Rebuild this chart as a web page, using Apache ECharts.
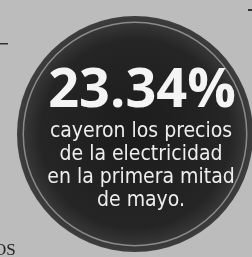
<!DOCTYPE html>
<html><head><meta charset="utf-8">
<script src="https://cdn.jsdelivr.net/npm/echarts@6/dist/echarts.min.js"></script>
<style>html,body{margin:0;padding:0;background:#bcbcbc;}#c{width:252px;height:257px;}</style>
</head><body><div id="c"></div>
<script>
const headlineValue = 23.34;
const headlineSuffix = '%';
const captionLines = ['cayeron los precios', 'de la electricidad', 'en la primera mitad', 'de mayo.'];
const sliceValues = [1];

const chart = echarts.init(document.getElementById('c'), null, {renderer: 'canvas'});
const cx = 135, cy = 134, r = 118;
chart.setOption({
  backgroundColor: '#bcbcbc',
  animation: false,
  series: [{
    type: 'pie', center: [cx, cy], radius: [0, r], silent: true,
    label: {show: false}, labelLine: {show: false},
    itemStyle: {color: {type: 'radial', x: 0.5, y: 0.5, r: 0.5, colorStops: [{offset: 0, color: '#1c1c1c'}, {offset: 0.8, color: '#252525'}, {offset: 1, color: '#3e3e3e'}]}},
    data: sliceValues.map(v => ({value: v}))
  }, {
    type: 'pie', center: [cx, cy], radius: [r - 7, r - 5.5], silent: true,
    label: {show: false}, labelLine: {show: false},
    itemStyle: {color: '#8a8a8a'},
    data: sliceValues.map(v => ({value: v}))
  }],
  graphic: [
    {type: 'text', z: 100, style: {text: headlineValue.toFixed(2) + headlineSuffix, x: 142, y: 92, fill: '#f4f4f4', font: 'bold 54px "Open Sans", "Liberation Sans", sans-serif', textAlign: 'center', textVerticalAlign: 'middle'}},
    ...captionLines.map((t, i) => ({type: 'text', z: 100, style: {text: t, x: 141, y: 132 + i * 23, fill: '#eeeeee', font: '21px "Liberation Sans Narrow", "DejaVu Sans Condensed", sans-serif', textAlign: 'center', textVerticalAlign: 'middle'}})),
    {type: 'rect', z: 100, shape: {x: 0, y: 43, width: 8, height: 1.5}, style: {fill: '#333'}},
    {type: 'rect', z: 100, shape: {x: 248, y: 9, width: 4, height: 2}, style: {fill: '#333'}},
    {type: 'text', z: 100, style: {text: 'OS', x: -6, y: 251, fill: '#222', font: '17px "Liberation Serif", serif', textVerticalAlign: 'middle'}}
  ]
});
</script></body></html>
